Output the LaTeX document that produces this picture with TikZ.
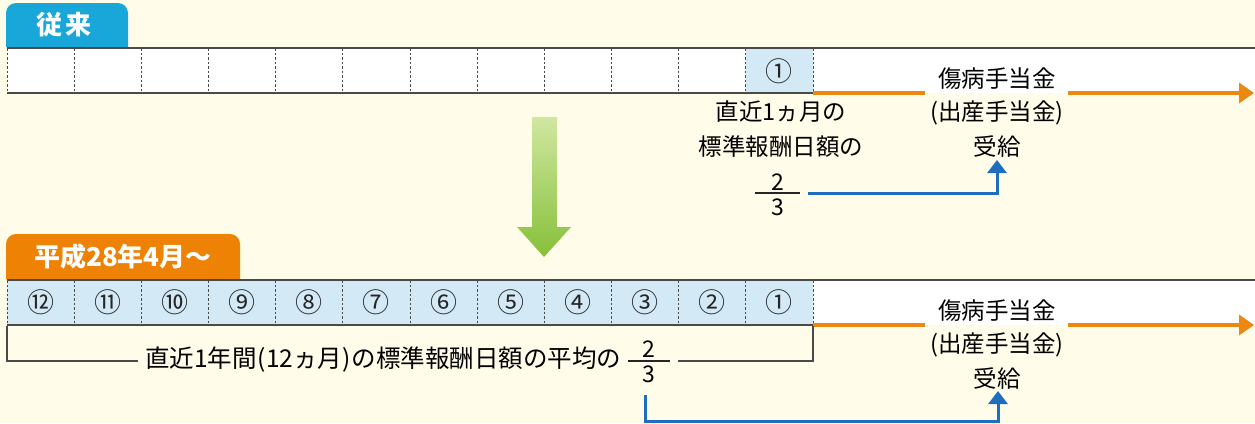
\documentclass[tikz,border=0pt]{standalone}
\usepackage{fontspec}
\setmainfont{Noto Sans CJK JP}
\usetikzlibrary{arrows.meta}
\definecolor{bg}{HTML}{FFFCE9}
\definecolor{tabblue}{HTML}{19A7DA}
\definecolor{taborange}{HTML}{EE8204}
\definecolor{cellblue}{HTML}{D3EAF6}
\definecolor{arrblue}{HTML}{1F6DBF}
\definecolor{arrorange}{HTML}{EC870F}
\definecolor{linegray}{HTML}{4A4A4A}
\definecolor{greenlight}{HTML}{D0E7A0}
\definecolor{greendark}{HTML}{86C03A}
\tikzset{
  txt/.style={inner sep=0pt, text=black, font=\fontsize{23.5}{27}\selectfont},
  bigtxt/.style={inner sep=0pt, text=black, font=\fontsize{24.5}{28}\selectfont},
  tabtext/.style={inner sep=0pt, text=white, font=\bfseries\fontsize{26}{30}\selectfont},
  celllab/.style={inner sep=0pt, text=black!85, font=\fontsize{27}{30}\selectfont},
  digit/.style={inner sep=0pt, text=black, font=\fontsize{23}{26}\selectfont},
  barline/.style={draw=linegray, line width=1.6pt},
  sepline/.style={draw=linegray, line width=1pt, dash pattern=on 2.5pt off 2pt},
  bracket/.style={draw=linegray, line width=1.2pt},
  fracline/.style={draw=black!85, line width=1.2pt},
  orangearrow/.style={draw=arrorange, line width=3.5pt},
  bluearrow/.style={draw=arrblue, line width=3pt},
}
\begin{document}
\begin{tikzpicture}[x=1pt,y=-1pt]
\fill[bg] (0,0) rectangle (1255,423);
\useasboundingbox (0,0) rectangle (1255,423);

% ---------- top section ----------
\fill[tabblue] (6,47) {[rounded corners=10pt] -- (6,3) -- (128,3)} -- (128,47) -- cycle;
\node[tabtext] (tabA) at (64,25) {従\hspace{4pt}来};

\fill[white] (7,48) rectangle (1255,93);
\fill[cellblue] (746.0,48) rectangle (813,93);
\foreach \k in {0,...,12} \draw[sepline] ({7+67.17*\k},48) -- ({7+67.17*\k},93);
\draw[barline] (7,48) -- (1255,48);
\draw[barline] (7,93) -- (813,93);
\node[celllab] (a1) at (779.4,71) {①};

\coordinate (oS1) at (813,93);
\coordinate (oM1) at (925,93);
\coordinate (oN1) at (1068,93);
\coordinate (oE1) at (1254,93);
\draw[orangearrow] (oS1) -- (oM1);
\draw[orangearrow, -{Triangle[length=15pt,width=20pt]}] (oN1) -- (oE1);

\node[txt] (h1) at (997,79) {傷病手当金};
\node[txt] (p1) at (997,113) {(出産手当金)};
\node[txt] (g1) at (997,147) {受給};

\node[txt] (n1) at (781,112) {直近1ヵ月の};
\node[txt] (n2) at (781,147) {標準報酬日額の};
\node[digit] (f1n) at (778,182) {2};
\node[digit] (f1d) at (778,207) {3};
\coordinate (f1l) at (755,193);
\coordinate (f1r) at (800,193);
\draw[fracline] (f1l) -- (f1r);
\coordinate (b1s) at (808,193);
\coordinate (b1e) at (997,160);
\draw[bluearrow, -{Triangle[length=13pt,width=19pt]}] (b1s) -| (b1e);

% ---------- green arrow ----------
\shade[top color=greenlight, bottom color=greendark]
  (532,117) -- (557,117) -- (557,227) -- (571,227) -- (544,257) -- (517,227) -- (532,227) -- cycle;

% ---------- bottom section ----------
\fill[taborange] (6,279) {[rounded corners=10pt] -- (6,234) -- (240,234)} -- (240,279) -- cycle;
\node[tabtext] (tabB) at (123,257) {平成28年4月～};

\fill[white] (7,280) rectangle (1255,325);
\fill[cellblue] (7,280) rectangle (813,325);
\foreach \k in {0,...,12} \draw[sepline] ({7+67.17*\k},280) -- ({7+67.17*\k},325);
\draw[barline] (7,280) -- (1255,280);
\draw[barline] (7,325) -- (813,325);
\foreach \lab [count=\k] in {⑫,⑪,⑩,⑨,⑧,⑦,⑥,⑤,④,③,②,①}
  \node[celllab] (c\k) at ({7+67.17*(\k-0.5)},302) {\lab};

\coordinate (oS2) at (813,325);
\coordinate (oM2) at (925,325);
\coordinate (oN2) at (1068,325);
\coordinate (oE2) at (1254,325);
\draw[orangearrow] (oS2) -- (oM2);
\draw[orangearrow, -{Triangle[length=15pt,width=20pt]}] (oN2) -- (oE2);

\node[txt] (h2) at (997,311) {傷病手当金};
\node[txt] (p2) at (997,345) {(出産手当金)};
\node[txt] (g2) at (997,379) {受給};

% bracket and label
\node[bigtxt, anchor=west] (avg) at (145,360) {直近1年間\hspace{1pt}(12ヵ月)\hspace{1pt}の標準報酬日額の平均の};
\node[digit] (f2n) at (649,349) {2};
\node[digit] (f2d) at (649,374) {3};
\coordinate (f2l) at (628,361);
\coordinate (f2r) at (670,361);
\draw[fracline] (f2l) -- (f2r);
\coordinate (k1) at (7,326);
\coordinate (k2) at (138,361);
\coordinate (k3) at (678,361);
\coordinate (k4) at (813,326);
\draw[bracket] (k1) |- (k2);
\draw[bracket] (k3) -| (k4);

\coordinate (b2s) at (645,395);
\coordinate (b2c) at (645,421);
\coordinate (b2e) at (998,391);
\draw[bluearrow, -{Triangle[length=13pt,width=19pt]}] (b2s) -- (b2c) -| (b2e);
\end{tikzpicture}
\end{document}
